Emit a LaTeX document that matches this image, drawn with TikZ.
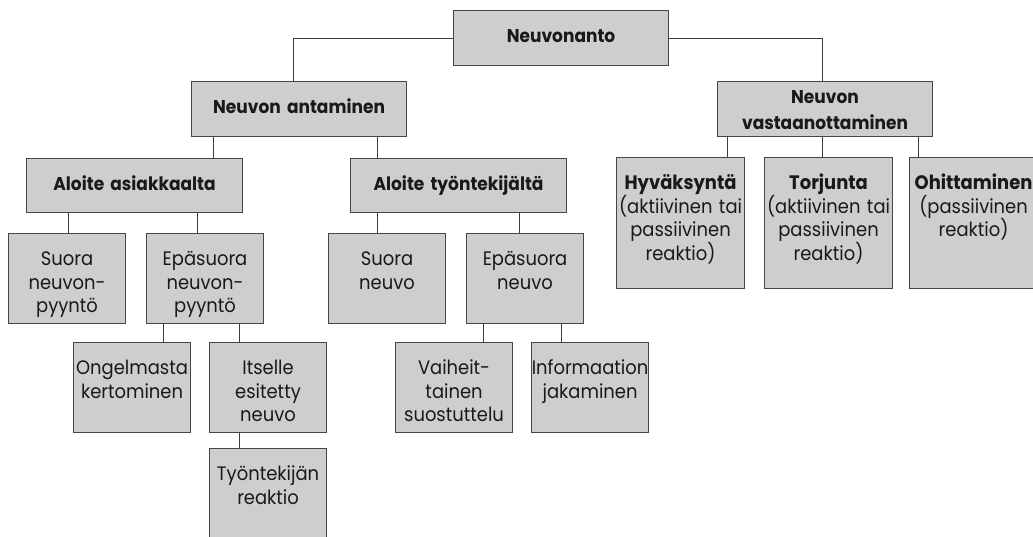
\documentclass[tikz,border=0pt]{standalone}
\usepackage{fontspec}
\setmainfont{Poppins}[FakeStretch=0.92]
\usetikzlibrary{positioning,calc}
\definecolor{boxfill}{RGB}{205,206,208}
\definecolor{boxline}{RGB}{70,70,70}
\definecolor{linkcol}{RGB}{60,60,60}
\definecolor{textcol}{RGB}{25,25,25}

\begin{document}
\begin{tikzpicture}[x=1pt,y=-1pt]
    \tikzstyle{box}=[draw=boxline, fill=boxfill, line width=1.1pt, anchor=north west, inner sep=0pt,
      align=center, text=textcol, font=\fontsize{19.5}{23.5}\selectfont, text height=32pt]
    \tikzstyle{head}=[box, text width=215pt, text depth=23pt, font=\bfseries\fontsize{18.5}{26}\selectfont]
    \tikzstyle{sub}=[box, text width=216pt, text depth=22pt, font=\bfseries\fontsize{18.5}{26}\selectfont]
    \tikzstyle{leaf}=[box, text width=117pt, text depth=58pt]
    \tikzstyle{reply}=[box, text width=128pt, text depth=99pt]
    \tikzstyle{link}=[draw=linkcol, line width=0.8pt]

    \useasboundingbox (0,0) rectangle (1033,536);

    \node[head]  (neuvonanto)   at (453,10)  {Neuvonanto};
    \node[head]  (antaminen)    at (191,81)  {Neuvon antaminen};
    \node[head, text height=22pt, text depth=33pt]
                 (vastaanotto)  at (717,81)  {Neuvon\\vastaanottaminen};

    \node[sub]   (asiakkaalta)  at (26,158)  {Aloite asiakkaalta};
    \node[sub]   (tyontekija)   at (350,158) {Aloite työntekijältä};

    \node[leaf]  (suorapyynto)  at (8,233)   {Suora\\neuvon-\\pyyntö};
    \node[leaf]  (epasuorapyynto) at (146,233) {Epäsuora\\neuvon-\\pyyntö};
    \node[leaf]  (suoraneuvo)   at (328,233) {Suora\\neuvo};
    \node[leaf]  (epasuoraneuvo) at (466,233) {Epäsuora\\neuvo};

    \node[leaf]  (ongelma)      at (73,342)  {Ongelmasta\\kertominen};
    \node[leaf]  (itselle)      at (209,342) {Itselle\\esitetty\\neuvo};
    \node[leaf, text depth=70pt] (reaktio) at (209,448) {Työntekijän\\reaktio};
    \node[leaf]  (vaiheittainen) at (395,342) {Vaiheit-\\tainen\\suostuttelu};
    \node[leaf]  (informaatio)  at (531,342) {Informaation\\jakaminen};

    \node[reply] (hyvaksynta)   at (616,157) {\textbf{Hyväksyntä}\\(aktiivinen tai\\passiivinen\\reaktio)};
    \node[reply] (torjunta)     at (764,157) {\textbf{Torjunta}\\(aktiivinen tai\\passiivinen\\reaktio)};
    \node[reply] (ohittaminen)  at (909,157) {\textbf{Ohittaminen}\\(passiivinen\\reaktio)};

    \draw[link] (neuvonanto.west) -| ([xshift=102pt]antaminen.north west);
    \draw[link] (neuvonanto.east) -| ([xshift=105pt]vastaanotto.north west);

    \draw[link] ([xshift=22pt]antaminen.south west) coordinate (a1) -- (a1 |- asiakkaalta.north);
    \draw[link] ([xshift=186pt]antaminen.south west) coordinate (a2) -- (a2 |- tyontekija.north);

    \draw[link] ([xshift=42pt]asiakkaalta.south west) coordinate (b1) -- (b1 |- suorapyynto.north);
    \draw[link] ([xshift=171pt]asiakkaalta.south west) coordinate (b2) -- (b2 |- epasuorapyynto.north);
    \draw[link] ([xshift=27pt]tyontekija.south west) coordinate (b3) -- (b3 |- suoraneuvo.north);
    \draw[link] ([xshift=169pt]tyontekija.south west) coordinate (b4) -- (b4 |- epasuoraneuvo.north);

    \draw[link] ([xshift=17pt]epasuorapyynto.south west) coordinate (c1) -- (c1 |- ongelma.north);
    \draw[link] ([xshift=93pt]epasuorapyynto.south west) coordinate (c2) -- (c2 |- itselle.north);
    \draw[link] ([xshift=30pt]itselle.south west) coordinate (c3) -- (c3 |- reaktio.north);
    \draw[link] ([xshift=17pt]epasuoraneuvo.south west) coordinate (c4) -- (c4 |- vaiheittainen.north);
    \draw[link] ([xshift=95pt]epasuoraneuvo.south west) coordinate (c5) -- (c5 |- informaatio.north);

    \draw[link] ([xshift=10pt]vastaanotto.south west) coordinate (d1) -- (d1 |- hyvaksynta.north);
    \draw[link] ([xshift=105pt]vastaanotto.south west) coordinate (d2) -- (d2 |- torjunta.north);
    \draw[link] ([xshift=201pt]vastaanotto.south west) coordinate (d3) -- (d3 |- ohittaminen.north);
\end{tikzpicture}
\end{document}
